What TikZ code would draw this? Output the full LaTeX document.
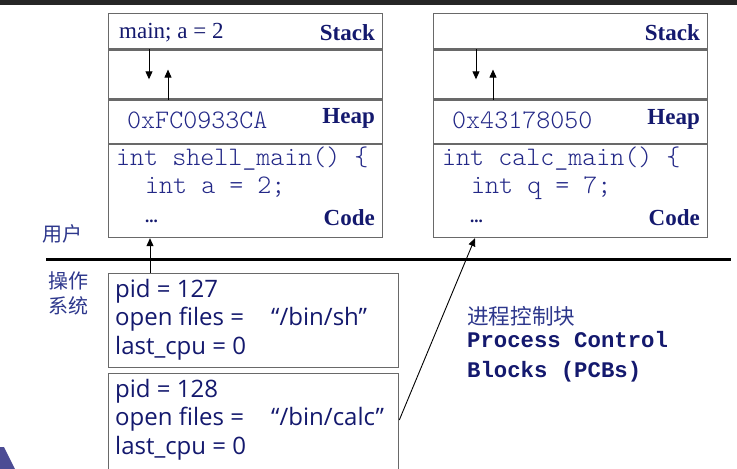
\documentclass[tikz,border=0pt]{standalone}
\usepackage{fontspec}
\setmainfont{Liberation Serif}
\setmonofont{Liberation Mono}
\setsansfont{Open Sans}
\newfontfamily\cjkfont{Noto Sans CJK SC}
\newfontfamily\codefont{Latin Modern Mono Light}
\usetikzlibrary{arrows.meta}
\definecolor{ink}{RGB}{20,25,110}
\definecolor{codeink}{RGB}{35,40,135}
\definecolor{cjkink}{RGB}{45,55,140}
\definecolor{frame}{RGB}{105,105,105}

\begin{document}
\begin{tikzpicture}[x=1pt,y=-1pt,
    seg/.style={draw=frame,line width=1.3pt,minimum width=274pt,anchor=north west,inner sep=0pt},
    pcb/.style={draw=frame,line width=1.3pt,minimum width=290pt,anchor=north west,inner sep=0pt},
    tag/.style={font=\fontsize{23}{23}\selectfont\bfseries,text=ink,anchor=base east,inner sep=0pt},
    serif/.style={font=\fontsize{23}{23}\selectfont,text=ink,anchor=base west,inner sep=0pt},
    code/.style={font=\fontsize{26.7}{26.7}\selectfont\codefont,text=codeink,anchor=base west,inner sep=0pt},
    dots/.style={font=\fontsize{17}{17}\selectfont\bfseries,text=ink,anchor=base west,inner sep=0pt},
    pcbtxt/.style={font=\fontsize{24}{28.5}\selectfont\sffamily,text=ink,align=left,anchor=north west,inner sep=0pt},
    zh/.style={font=\fontsize{20}{25}\selectfont\cjkfont,text=cjkink,align=center,inner sep=0pt},
    arr/.style={-{Triangle[length=8pt,width=7pt]},line width=0.9pt}]
  \useasboundingbox (0,0) rectangle (737,469);
  \fill[white] (0,0) rectangle (737,469);
  \fill[black!85] (0,0) rectangle (737,5);
  \fill[blue!40!black!70] (0,447) -- (4,447) -- (15,469) -- (0,469) -- cycle;

  % left process
  \node[seg,minimum height=35pt] (lstack) at (108,13) {};
  \node[seg,minimum height=49pt] (lgap) at (lstack.south west) {};
  \node[seg,minimum height=43pt] (lheap) at (lgap.south west) {};
  \node[seg,minimum height=93pt] (lcode) at (lheap.south west) {};
  \node[serif] (lmain) at (119,38) {main; a = 2};
  \node[tag] (lstk) at (375,40) {Stack};
  \node[code] (laddr) at (127,128) {0xFC0933CA};
  \node[tag] (lhp) at (375,123) {Heap};
  \node[code] (lfn) at (116,165) {int shell\_main() \{};
  \node[code] (lvar) at (145,193) {int a = 2;};
  \node[dots] (ldots) at (145,222) {...};
  \node[tag] (lcd) at (375,225) {Code};
  \draw[arr] ([xshift=41pt]lgap.north west) -- ++(0,30);
  \draw[arr] ([xshift=60pt]lgap.south west) -- ++(0,-30);

  % right process
  \node[seg,minimum height=35pt] (rstack) at (433,13) {};
  \node[seg,minimum height=49pt] (rgap) at (rstack.south west) {};
  \node[seg,minimum height=43pt] (rheap) at (rgap.south west) {};
  \node[seg,minimum height=93pt] (rcode) at (rheap.south west) {};
  \node[tag] (rstk) at (700,40) {Stack};
  \node[code] (raddr) at (452,128) {0x43178050};
  \node[tag] (rhp) at (700,124) {Heap};
  \node[code] (rfn) at (442,165) {int calc\_main() \{};
  \node[code] (rvar) at (471,193) {int q = 7;};
  \node[dots] (rdots) at (470,222) {...};
  \node[tag] (rcd) at (700,225) {Code};
  \draw[arr] ([xshift=43pt]rgap.north west) -- ++(0,30);
  \draw[arr] ([xshift=60pt]rgap.south west) -- ++(0,-30);

  % user / kernel
  \coordinate (sepl) at (46,259);
  \coordinate (sepr) at (731,259);
  \draw[line width=3pt] (sepl) -- (sepr);
  \node[zh] (user) at (62,234) {用户};
  \node[zh] (kernel) at (68,293) {操作\\系统};

  % PCBs
  \node[pcb,minimum height=94pt] (pcb1) at (108,273) {};
  \node[pcb,minimum height=120pt] (pcb2) at (108,373) {};
  \node[pcbtxt] (pcbtxt1) at (115,279) {pid = 127\\open files = \hspace{21pt}“/bin/sh”\\last\_cpu = 0};
  \node[pcbtxt] (pcbtxt2) at (115,379) {pid = 128\\open files = \hspace{21pt}“/bin/calc”\\last\_cpu = 0};
  \draw[arr] ([xshift=42pt]pcb1.north west) -- ([xshift=42pt]lcode.south west);
  \draw[arr] ([yshift=-47pt]pcb2.north east) -- ([xshift=42pt]rcode.south west);

  \node[zh,font=\fontsize{21.6}{25}\selectfont\cjkfont,anchor=west] (pcbzh) at (467,316) {进程控制块};
  \node[font=\fontsize{22.3}{30}\selectfont\ttfamily\bfseries,text=ink,align=left,anchor=north west,inner sep=0pt] (pcbname) at (467,331) {Process Control\\Blocks (PCBs)};
\end{tikzpicture}
\end{document}
